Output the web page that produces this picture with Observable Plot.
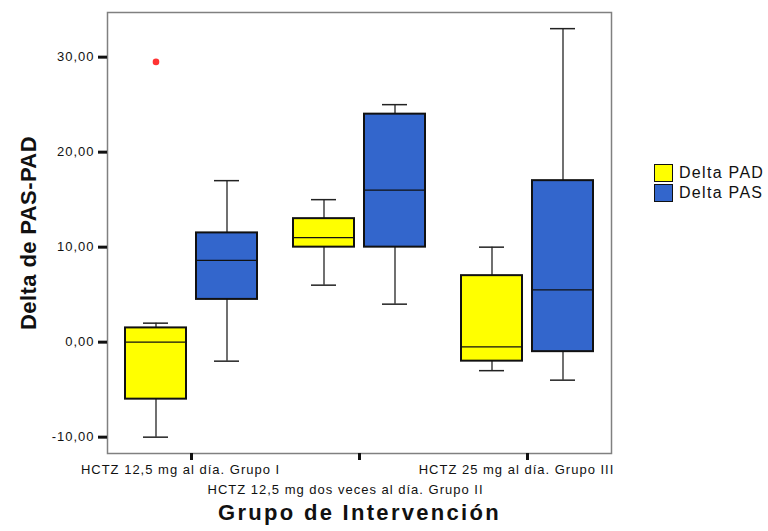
<!DOCTYPE html>
<html>
<head>
<meta charset="utf-8">
<script src="https://cdn.jsdelivr.net/npm/d3@7"></script>
<script src="https://cdn.jsdelivr.net/npm/@observablehq/plot@0.6"></script>
<style>
  html, body { margin: 0; padding: 0; background: #fff; }
  #wrap { position: relative; width: 768px; height: 531px; font-family: "Liberation Sans", Arial, sans-serif; }
  #wrap svg text { letter-spacing: 1px; }
  #wrap svg g[font-weight="bold"] text { letter-spacing: 2.3px; }
  #wrap svg g[font-weight="bold"] text[transform*="rotate"] { letter-spacing: 0.4px; }
  #legend { position: absolute; left: 654px; top: 163px; }
  .li { display: flex; align-items: center; height: 20px; }
  .sw { width: 17px; height: 16px; border: 1.5px solid #111; margin-right: 6px; }
  .lt { font-size: 16px; letter-spacing: 1.3px; color: #111; }
</style>
</head>
<body>
<div id="wrap"><div id="legend"></div></div>
<script>
// Categories
const groups = [
  "HCTZ 12,5 mg al día. Grupo I",
  "HCTZ 12,5 mg dos veces al día. Grupo II",
  "HCTZ 25 mg al día. Grupo III"
];
const series = ["Delta PAD", "Delta PAS"];
const colors = ["#ffff00", "#3366cc"];

// Box statistics per group (Delta PAD)
const padMin = [-10, 6, -3];
const padQ1  = [-6, 10, -2];
const padMed = [0, 11, -0.5];
const padQ3  = [1.5, 13, 7];
const padMax = [2, 15, 10];

// Box statistics per group (Delta PAS)
const pasMin = [-2, 4, -4];
const pasQ1  = [4.5, 10, -1];
const pasMed = [8.6, 16, 5.5];
const pasQ3  = [11.5, 24, 17];
const pasMax = [17, 25, 33];

// Outliers
const outGroup = [groups[0]];
const outSeries = ["Delta PAD"];
const outValue = [29.5];

// Axis
const yTicks = [-10, 0, 10, 20, 30];
const yDomain = [-11.72, 34.7];
const yTitle = "Delta de PAS-PAD";
const xTitle = "Grupo de Intervención";
const row1 = [groups[0], groups[2]];
const row2 = [groups[1]];

const stats = [];
groups.forEach((g, i) => {
  stats.push({group: g, series: series[0], min: padMin[i], q1: padQ1[i], med: padMed[i], q3: padQ3[i], max: padMax[i]});
  stats.push({group: g, series: series[1], min: pasMin[i], q1: pasQ1[i], med: pasMed[i], q3: pasQ3[i], max: pasMax[i]});
});
const outliers = outValue.map((v, i) => ({group: outGroup[i], series: outSeries[i], value: v}));

const fmt = d => d.toFixed(2).replace(".", ",");

const chart = Plot.plot({
  width: 768,
  height: 531,
  marginLeft: 107,
  marginRight: 157,
  marginTop: 12,
  marginBottom: 78,
  style: {fontFamily: "'Liberation Sans', Arial, sans-serif", background: "white", color: "#111"},
  fx: {domain: groups, padding: 0, axis: null},
  x: {domain: series, paddingInner: 0.14, paddingOuter: 0.245, axis: null},
  y: {domain: yDomain},
  color: {domain: series, range: colors},
  marks: [
    Plot.frame({facet: "super", stroke: "#808080", strokeWidth: 1.5}),
    Plot.axisY({ticks: yTicks, tickSize: 9, strokeWidth: 3, tickPadding: 4, tickFormat: fmt, fontSize: 13, label: null}),
    Plot.axisFx({anchor: "bottom", ticks: groups, tickSize: 7, strokeWidth: 3, tickFormat: () => "", label: null}),
    Plot.text(row1, {fx: d => d, text: d => d, frameAnchor: "bottom", dy: 20, dx: -11, fontSize: 13}),
    Plot.text(row2, {fx: d => d, text: d => d, frameAnchor: "bottom", dy: 40, dx: -14, fontSize: 13}),
    Plot.ruleX(stats, {fx: "group", x: "series", y1: "min", y2: "max", stroke: "#111", strokeWidth: 1.2}),
    Plot.tickY(stats, {fx: "group", x: "series", y: "min", inset: 18, stroke: "#222", strokeWidth: 1.5}),
    Plot.tickY(stats, {fx: "group", x: "series", y: "max", inset: 18, stroke: "#222", strokeWidth: 1.5}),
    Plot.barY(stats, {fx: "group", x: "series", y1: "q1", y2: "q3", fill: "series", stroke: "#111", strokeWidth: 2}),
    Plot.tickY(stats, {fx: "group", x: "series", y: "med", stroke: "#111", strokeWidth: 1.3}),
    Plot.dot(outliers, {fx: "group", x: "series", y: "value", r: 3.3, fill: "#ff3333", stroke: null}),
    Plot.text([xTitle], {facet: "super", frameAnchor: "bottom", dy: 66, fontSize: 22, fontWeight: "bold"}),
    Plot.text([yTitle], {facet: "super", frameAnchor: "left", textAnchor: "middle", dx: -79, rotate: -90, fontSize: 22, fontWeight: "bold"})
  ]
});

const wrap = document.getElementById("wrap");
wrap.insertBefore(chart, wrap.firstChild);

const legend = document.getElementById("legend");
series.forEach((s, i) => {
  const row = document.createElement("div");
  row.className = "li";
  const sw = document.createElement("div");
  sw.className = "sw";
  sw.style.background = colors[i];
  const t = document.createElement("span");
  t.className = "lt";
  t.textContent = s;
  row.appendChild(sw);
  row.appendChild(t);
  legend.appendChild(row);
});
</script>
</body>
</html>
